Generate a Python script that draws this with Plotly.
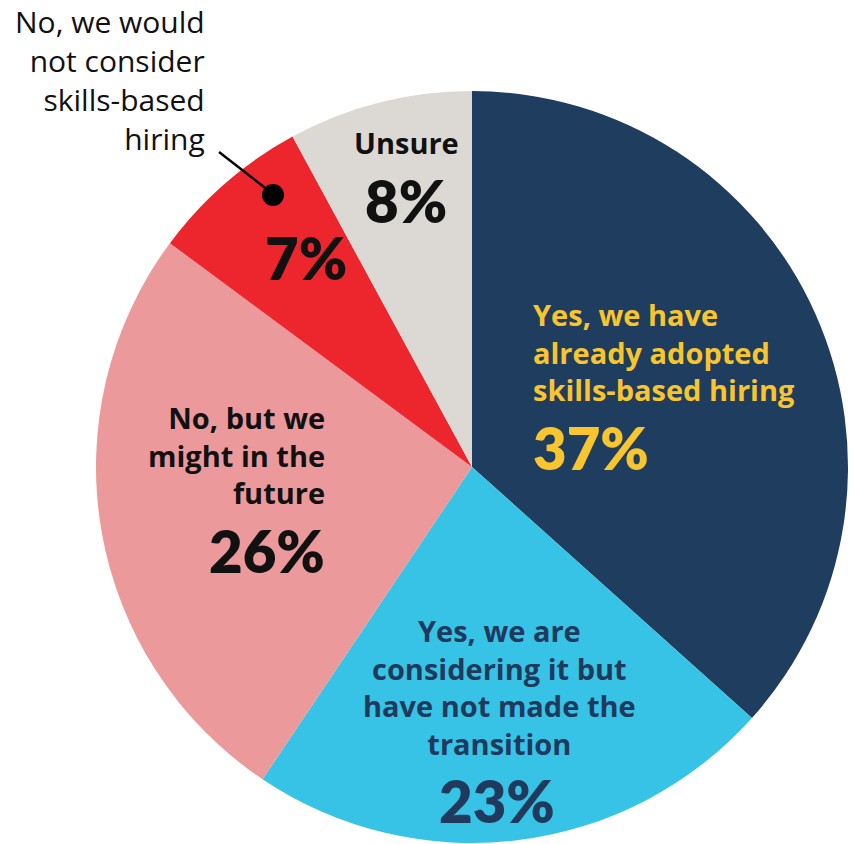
import plotly.graph_objects as go

# Survey responses, clockwise from 12 o'clock
categories = [
    "Yes, we have already adopted skills-based hiring",
    "Yes, we are considering it but have not made the transition",
    "No, but we might in the future",
    "No, we would not consider skills-based hiring",
    "Unsure",
]
shares = [37, 23, 26, 7, 8]
slice_colors = ["#1f3d5f", "#36c3e6", "#eb999b", "#ec262c", "#dcd9d5"]

W, H = 854, 844
cx, cy, r = 472, 467, 376

fig = go.Figure(go.Pie(
    labels=categories,
    values=shares,
    sort=False,
    direction="clockwise",
    rotation=0,
    marker=dict(colors=slice_colors, line=dict(width=0)),
    textinfo="none",
    hoverinfo="label+value",
    showlegend=False,
    domain=dict(x=[(cx - r) / W, (cx + r) / W], y=[(H - cy - r) / H, (H - cy + r) / H]),
))

FONT = "Open Sans"


def px(x, y):
    return x / W, 1 - y / H


def note(text, x, y, size, color, xanchor="center", align="center", weight=700, family=FONT):
    ax, ay = px(x, y)
    fig.add_annotation(
        text=text, x=ax, y=ay, xref="paper", yref="paper",
        xanchor=xanchor, yanchor="middle", align=align, showarrow=False,
        font=dict(family=family, size=size, color=color, weight=weight),
    )


yellow = "#f8c52f"
navy = "#1f3a5c"
black = "#111111"
LBL = 29
PCT = 58

# slice labels
note("Yes, we have<br>already adopted<br>skills-based hiring", 531, 352, LBL, yellow, "left", "left")
note(f"{shares[0]}%", 531, 447, PCT, yellow, "left", "left", family="Lato", weight=800)

note("Yes, we are<br>considering it but<br>have not made the<br>transition", 499, 687, LBL, navy)
note(f"{shares[1]}%", 497, 800, PCT, navy, family="Lato", weight=800)

note("No, but we<br>might in the<br>future", 327, 455, LBL, black, "right", "right")
note(f"{shares[2]}%", 327, 550, PCT, black, "right", "right", family="Lato", weight=800)

note(f"{shares[3]}%", 306, 257, PCT, black, family="Lato", weight=800)

note("Unsure", 406, 143, LBL, black)
note(f"{shares[4]}%", 406, 200, PCT, black, family="Lato", weight=800)

# outside label for the small red slice, with a leader line ending in a dot
note("No, we would<br>not consider<br>skills-based<br>hiring", 207, 80, 30, black, "right", "right", weight=400)

x0, y0 = px(219, 152)
x1, y1 = px(273, 194)
fig.add_shape(type="line", xref="paper", yref="paper", x0=x0, y0=y0, x1=x1, y1=y1,
              line=dict(color="black", width=2.5))
dr = 11
fig.add_shape(type="circle", xref="paper", yref="paper",
              x0=(273 - dr) / W, x1=(273 + dr) / W, y0=1 - (195 + dr) / H, y1=1 - (195 - dr) / H,
              fillcolor="black", line=dict(width=0))

fig.update_layout(
    width=W, height=H,
    margin=dict(l=0, r=0, t=0, b=0),
    paper_bgcolor="white", plot_bgcolor="white",
)

fig.write_html("out.html")
